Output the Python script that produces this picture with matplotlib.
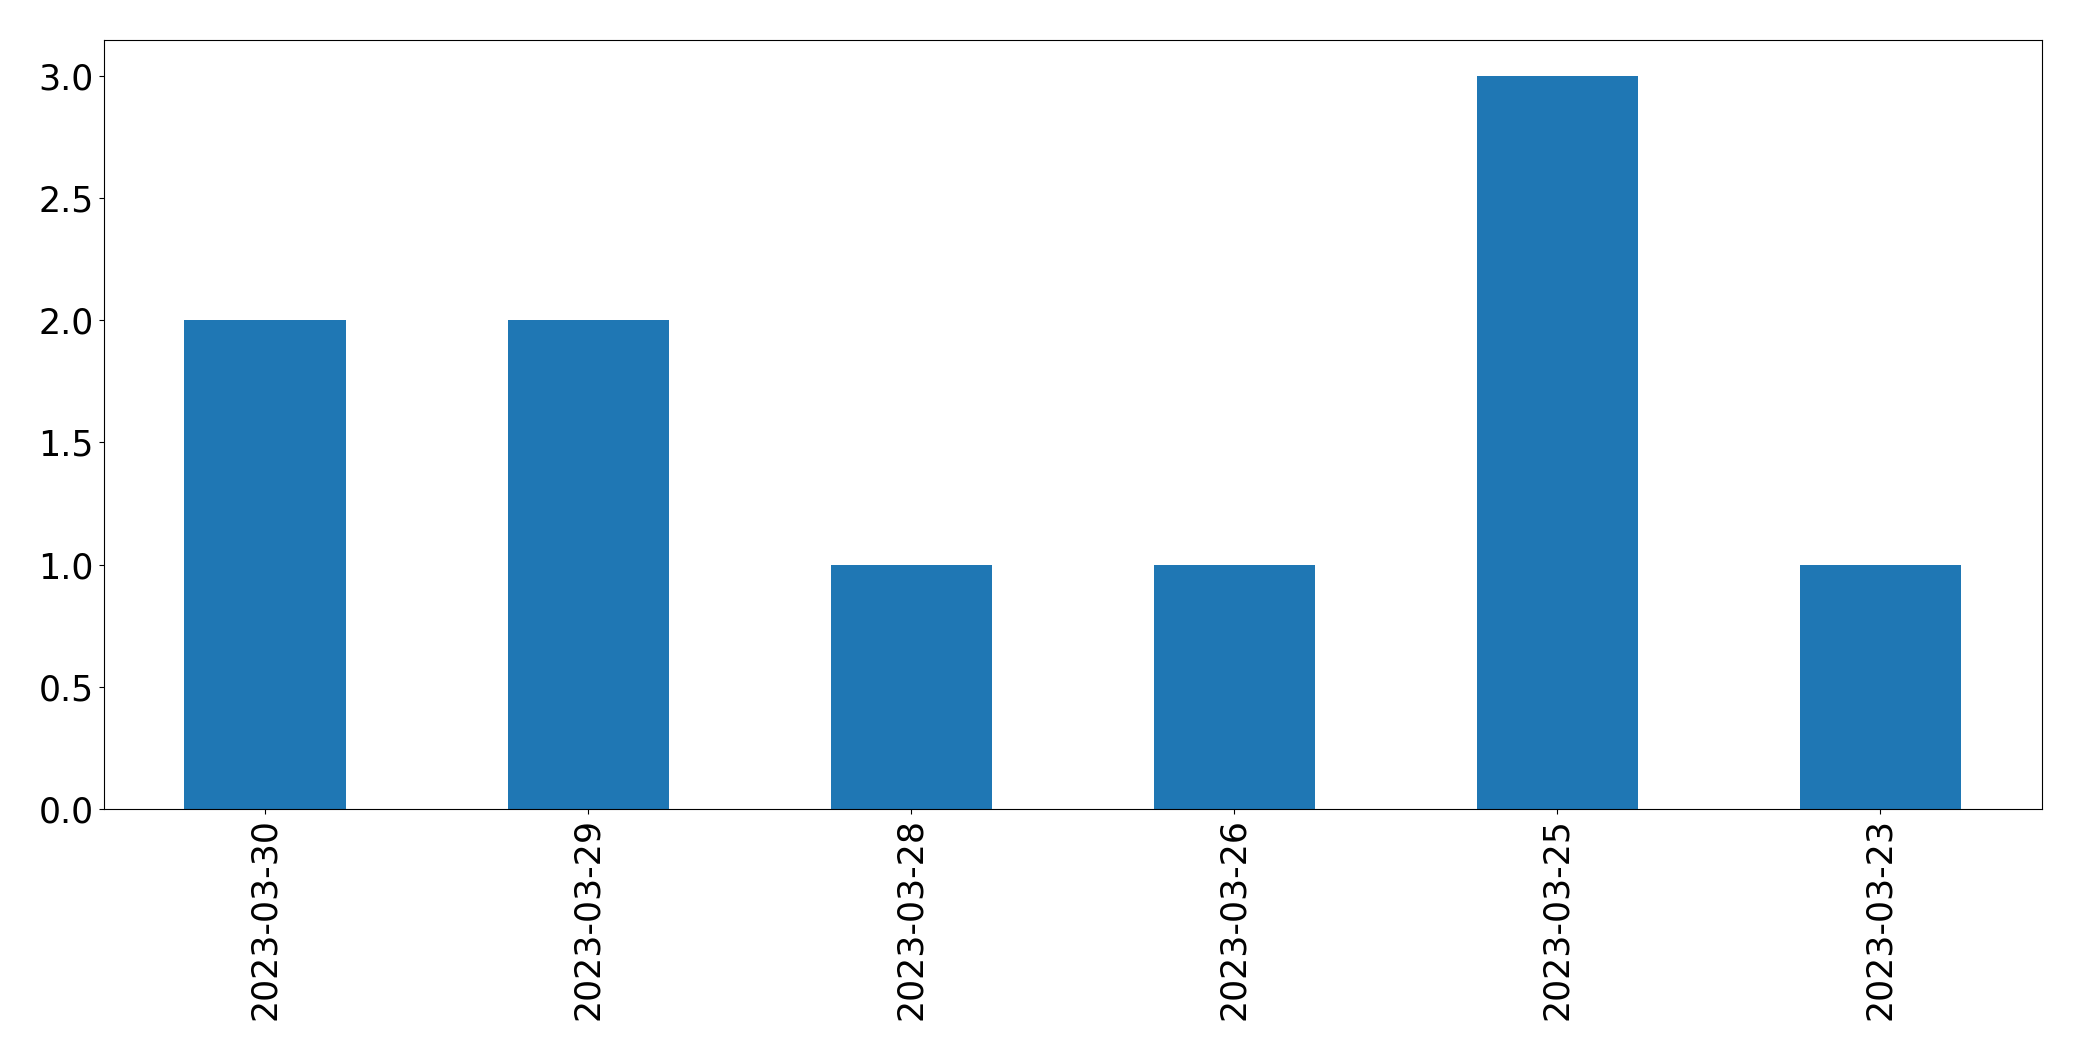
import pandas as pd
import matplotlib.pyplot as plt

dates = ['2023-03-30', '2023-03-29', '2023-03-28', '2023-03-26', '2023-03-25', '2023-03-23']
counts = [2, 2, 1, 1, 3, 1]

s = pd.Series(counts, index=dates)

fig = plt.figure(figsize=(20.82, 10.61), dpi=100)
ax = fig.add_subplot(111)
s.plot(kind='bar', ax=ax, fontsize=25)
fig.subplots_adjust(left=0.0498, right=0.9808, top=0.9625, bottom=0.2379)
plt.savefig('out.png', dpi=100)
